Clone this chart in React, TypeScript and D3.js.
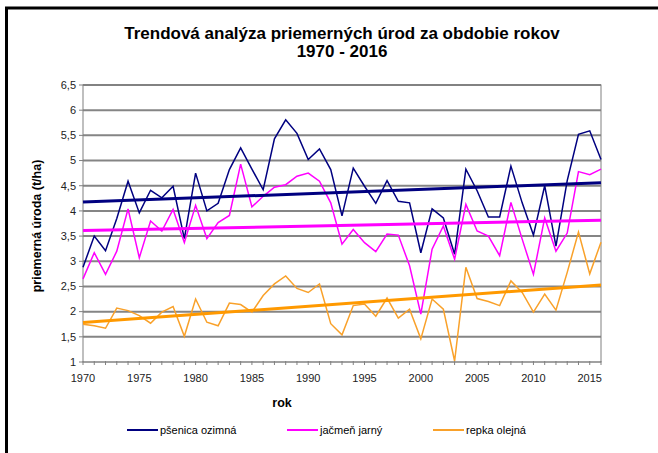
import React from 'react';
import * as d3 from 'd3';

const width = 658;
const height = 453;
const margin = { top: 85, right: 57, bottom: 91, left: 83 };

const years = d3.range(1970, 2017);

// výnosy (t/ha) odčítané z grafu
const psenica = [
  2.88, 3.5, 3.21, 3.85, 4.59, 3.96, 4.41, 4.26, 4.49, 3.45,
  4.75, 4.0, 4.15, 4.82, 5.25, 4.83, 4.42, 5.43, 5.81, 5.54,
  5.02, 5.23, 4.82, 3.9, 4.85, 4.49, 4.15, 4.6, 4.19, 4.16,
  3.17, 4.04, 3.86, 3.14, 4.83, 4.4, 3.88, 3.88, 4.89, 4.16,
  3.52, 4.5, 3.3, 4.6, 5.52, 5.59, 5.02
];
const jacmen = [
  2.65, 3.17, 2.74, 3.2, 4.04, 3.07, 3.8, 3.6, 4.03, 3.37,
  4.11, 3.45, 3.77, 3.91, 4.93, 4.08, 4.29, 4.47, 4.52, 4.69,
  4.75, 4.59, 4.16, 3.34, 3.63, 3.37, 3.19, 3.54, 3.52, 2.91,
  1.95, 3.24, 3.7, 3.04, 4.13, 3.6, 3.5, 3.11, 4.17, 3.44,
  2.74, 3.86, 3.2, 3.56, 4.78, 4.72, 4.83
];
const repka = [
  1.75, 1.72, 1.67, 2.07, 2.02, 1.92, 1.77, 1.99, 2.1, 1.51,
  2.25, 1.79, 1.72, 2.17, 2.14, 1.99, 2.32, 2.55, 2.71, 2.46,
  2.38, 2.55, 1.76, 1.54, 2.12, 2.15, 1.91, 2.27, 1.87, 2.05,
  1.46, 2.25, 2.05, 1.02, 2.88, 2.26, 2.2, 2.12, 2.61, 2.38,
  1.99, 2.35, 2.03, 2.78, 3.58, 2.75, 3.38
];

const seriesNames = ['pšenica ozimná', 'jačmeň jarný', 'repka olejná'];
const seriesColors = ['#000080', '#ff00ff', '#f9a12a'];
const trendColors = ['#000080', '#ff00ff', '#ff9900'];
const yTicks = [1, 1.5, 2, 2.5, 3, 3.5, 4, 4.5, 5, 5.5, 6, 6.5];
const xLabelYears = d3.range(1970, 2016, 5);

// lineárny trend (metóda najmenších štvorcov)
function trend(values: number[]) {
  const mx = d3.mean(years)!;
  const my = d3.mean(values)!;
  let num = 0;
  let den = 0;
  years.forEach((x, i) => {
    num += (x - mx) * (values[i] - my);
    den += (x - mx) * (x - mx);
  });
  const slope = num / den;
  return (x: number) => my + slope * (x - mx);
}

const App = () => {
  const allSeries = [psenica, jacmen, repka];
  const innerW = width - margin.left - margin.right;
  const innerH = height - margin.top - margin.bottom;

  const x = d3.scaleLinear().domain([1970, 2016]).range([margin.left, margin.left + innerW]);
  const y = d3.scaleLinear().domain([1, 6.5]).range([margin.top + innerH, margin.top]);

  const line = d3.line<number>()
    .x((_, i) => x(years[i]))
    .y(d => y(d));

  const font = 'Arial, "Liberation Sans", sans-serif';
  const legendX = [127, 287, 433];

  return (
    <div style={{ position: 'absolute', left: 0, top: 0 }}>
      <svg width={width} height={height} style={{ display: 'block', background: '#fff' }} fontFamily={font}>
        {/* rám */}
        <path d={`M6.5,${height + 5} V8 H${width + 5}`} fill="none" stroke="#000" strokeWidth={3} />

        <text x={342} y={39} textAnchor="middle" fontSize={17} fontWeight="bold">
          Trendová analýza priemerných úrod za obdobie rokov
        </text>
        <text x={342} y={57} textAnchor="middle" fontSize={17} fontWeight="bold">1970 - 2016</text>

        {/* mriežka */}
        {yTicks.map(t => (
          <g key={t}>
            <line x1={margin.left} x2={margin.left + innerW} y1={y(t)} y2={y(t)} stroke="#858585" strokeWidth={t === 1 ? 1 : 2} />
            <line x1={margin.left - 4} x2={margin.left} y1={y(t)} y2={y(t)} stroke="#808080" />
            <text x={margin.left - 7} y={y(t)} dy="0.35em" textAnchor="end" fontSize={11} fill="#222">
              {String(t).replace('.', ',')}
            </text>
          </g>
        ))}
        <rect x={margin.left} y={margin.top} width={innerW} height={innerH} fill="none" stroke="#808080" strokeWidth={1} />

        {/* x os */}
        {years.map(yr => (
          <line key={yr} x1={x(yr)} x2={x(yr)} y1={y(1) - 1} y2={y(1) + 3} stroke="#808080" />
        ))}
        {xLabelYears.map(yr => (
          <text key={yr} x={x(yr)} y={382} textAnchor="middle" fontSize={11} fill="#222">{yr}</text>
        ))}

        <text x={282} y={407} textAnchor="middle" fontSize={12.5} fontWeight="bold">rok</text>
        <text transform={`translate(41,${y(3.7)}) rotate(-90)`} textAnchor="middle" fontSize={12.5} fontWeight="bold">
          priemerná úroda (t/ha)
        </text>

        {/* série */}
        {allSeries.map((vals, i) => (
          <path key={i} d={line(vals) || ''} fill="none" stroke={seriesColors[i]} strokeWidth={1.5} strokeLinejoin="miter" />
        ))}
        {allSeries.map((vals, i) => {
          const f = trend(vals);
          return (
            <line key={'t' + i} x1={x(1970)} x2={x(2016)} y1={y(f(1970))} y2={y(f(2016))}
              stroke={trendColors[i]} strokeWidth={3} />
          );
        })}

        {/* legenda */}
        {seriesNames.map((name, i) => (
          <g key={name} transform={`translate(${legendX[i]},430)`}>
            <line x1={0} x2={31} y1={0} y2={0} stroke={seriesColors[i]} strokeWidth={2} />
            <text x={33} y={0} dy="0.35em" fontSize={11}>{name}</text>
          </g>
        ))}
      </svg>
    </div>
  );
};

export default App;
